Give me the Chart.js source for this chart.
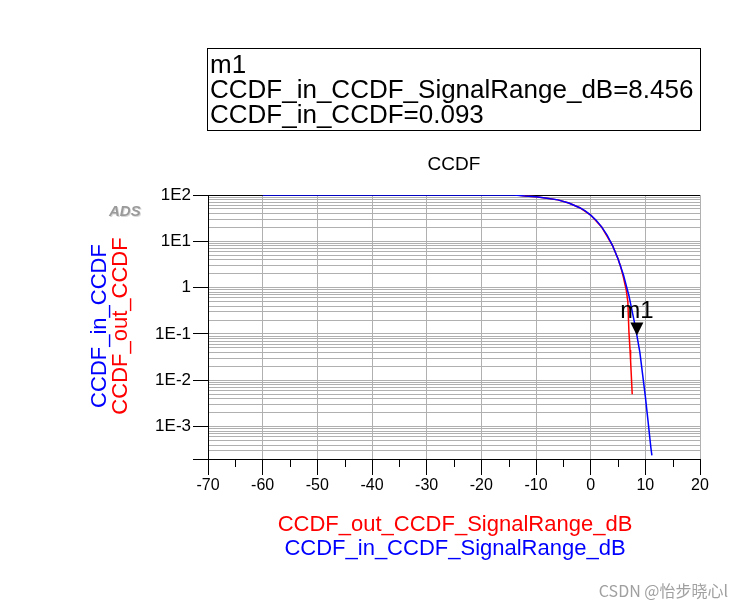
<!DOCTYPE html>
<html>
<head>
<meta charset="utf-8">
<script src="https://cdn.jsdelivr.net/npm/chart.js@4"></script>
<style>
  body { margin: 0; background: #fff; }
  canvas { display: block; }
</style>
</head>
<body>
<canvas id="ccdfChart" width="741" height="610"></canvas>
<script>
// signal range (dB) and CCDF (%)
const inRange = [-60, -14, -12, -10, -8, -6, -4, -2, -1, 0, 1, 2, 3, 4, 5, 6, 7, 8, 8.456, 9, 10, 10.5, 11, 11.2];
const inCCDF = [100, 99.6, 95, 92, 85.4, 78.5, 67.2, 53.2, 45.2, 36.8, 28.4, 20.5, 13.6, 8.1, 4.2, 1.87, 0.67, 0.18, 0.093, 0.04, 0.0045, 0.0013, 0.00036, 0.00024];
const outRange = [-13.5, -12, -10, -8, -6, -4, -2, 0, 2, 4, 5, 5.5, 6, 6.5, 6.8, 7, 7.2, 7.3, 7.6];
const outCCDF = [99.6, 95, 92, 85.4, 78.5, 67.2, 53.2, 36.8, 20.5, 8.1, 4.2, 2.8, 1.65, 0.9, 0.5, 0.11, 0.045, 0.027, 0.005];

const xTickValues = [-70, -60, -50, -40, -30, -20, -10, 0, 10, 20];
const yTickValues = [1e-3, 1e-2, 1e-1, 1, 10, 100];
const yTickLabels = ['1E-3', '1E-2', '1E-1', '1', '1E1', '1E2'];
const yMin = 2e-4, yMax = 100;

const markerName = 'm1';
const markerX = 8.456;
const markerY = 0.093;

// log grid: 1..9 x each decade
const yGrid = [];
for (let k = 2; k <= 9; k++) yGrid.push(yTickValues[0] / 10 * k);
for (let i = 0; i < yTickValues.length - 1; i++) {
  for (let k = 1; k <= 9; k++) yGrid.push(yTickValues[i] * k);
}
yGrid.push(yTickValues[yTickValues.length - 1]);

function majorIndex(v) {
  return yTickValues.findIndex(t => Math.abs(Math.log10(t) - Math.log10(v)) < 1e-6);
}

const FONT = '"Liberation Sans", Arial, sans-serif';

const adsDecor = {
  id: 'adsDecor',
  beforeDatasetsDraw(chart) {
    const c = chart.ctx, a = chart.chartArea;
    const xs = chart.scales.x;
    c.save();
    c.strokeStyle = '#000';
    c.lineWidth = 1;
    c.beginPath();
    // top border
    c.moveTo(a.left - 15, a.top + 0.5); c.lineTo(a.right, a.top + 0.5);
    // y axis line running past the x axis
    c.moveTo(a.left + 0.5, a.top); c.lineTo(a.left + 0.5, a.bottom + 16);
    // x axis line running past the y axis
    c.moveTo(a.left - 15, a.bottom + 0.5); c.lineTo(a.right, a.bottom + 0.5);
    // minor x ticks halfway between labels
    for (let i = 0; i < xTickValues.length - 1; i++) {
      const v = (xTickValues[i] + xTickValues[i + 1]) / 2;
      const px = Math.round(xs.getPixelForValue(v)) + 0.5;
      c.moveTo(px, a.bottom); c.lineTo(px, a.bottom + 8);
    }
    c.stroke();
    c.restore();
  },
  afterDatasetsDraw(chart) {
    const c = chart.ctx;
    const px = chart.scales.x.getPixelForValue(markerX);
    const py = chart.scales.y.getPixelForValue(markerY);
    c.save();
    c.fillStyle = '#000';
    c.beginPath();
    c.moveTo(px, py);
    c.lineTo(px - 6.5, py - 13);
    c.lineTo(px + 6.5, py - 13);
    c.closePath();
    c.fill();
    c.font = '24px ' + FONT;
    c.textAlign = 'center';
    c.textBaseline = 'alphabetic';
    c.fillText(markerName, px, py - 17);
    c.restore();
  },
  afterDraw(chart) {
    const c = chart.ctx;
    c.save();
    // marker readout box
    c.strokeStyle = '#000';
    c.lineWidth = 1;
    c.strokeRect(207.5, 48.5, 493, 82);
    c.fillStyle = '#000';
    c.font = '26px ' + FONT;
    c.textAlign = 'left';
    c.fillText(markerName, 210, 73);
    c.fillText('CCDF_in_CCDF_SignalRange_dB=' + markerX, 210, 98);
    c.fillText('CCDF_in_CCDF=' + markerY, 210, 123);

    // title
    c.font = '19px ' + FONT;
    c.textAlign = 'center';
    c.fillText('CCDF', 454, 170);

    // ADS logo
    c.font = 'bold italic 15px ' + FONT;
    c.textAlign = 'left';
    c.fillStyle = '#d8d8d8';
    c.fillText('ADS', 110, 217);
    c.fillStyle = '#9a9a9a';
    c.fillText('ADS', 109, 216);

    // y axis titles
    c.font = '22px ' + FONT;
    c.textAlign = 'center';
    c.textBaseline = 'middle';
    c.save();
    c.translate(100, 326);
    c.rotate(-Math.PI / 2);
    c.fillStyle = '#0000ff';
    c.fillText('CCDF_in_CCDF', 0, 0);
    c.restore();
    c.save();
    c.translate(121, 326);
    c.rotate(-Math.PI / 2);
    c.fillStyle = '#ff0000';
    c.fillText('CCDF_out_CCDF', 0, 0);
    c.restore();

    // x axis titles
    c.fillStyle = '#ff0000';
    c.fillText('CCDF_out_CCDF_SignalRange_dB', 455, 525);
    c.fillStyle = '#0000ff';
    c.fillText('CCDF_in_CCDF_SignalRange_dB', 455, 549);

    // watermark
    c.font = '16px "Noto Sans CJK SC", ' + FONT;
    c.fillStyle = '#a0a0a0';
    c.textAlign = 'right';
    c.fillText('CSDN @怡步晓心l', 728, 591);
    c.restore();
  }
};

new Chart(document.getElementById('ccdfChart'), {
  type: 'scatter',
  data: {
    datasets: [
      {
        label: 'CCDF_in_CCDF',
        data: inRange.map((x, i) => ({ x, y: inCCDF[i] })),
        showLine: true,
        borderColor: '#0000ff',
        borderWidth: 1.5,
        pointRadius: 0,
        tension: 0
      },
      {
        label: 'CCDF_out_CCDF',
        data: outRange.map((x, i) => ({ x, y: outCCDF[i] })),
        showLine: true,
        borderColor: '#ff0000',
        borderWidth: 1.5,
        pointRadius: 0,
        tension: 0
      }
    ]
  },
  options: {
    responsive: false,
    animation: false,
    layout: { padding: { top: 195, right: 41, left: 0, bottom: 0 } },
    plugins: {
      legend: { display: false },
      tooltip: { enabled: false }
    },
    scales: {
      x: {
        type: 'linear',
        min: xTickValues[0],
        max: xTickValues[xTickValues.length - 1],
        afterFit(scale) { scale.height = 151; },
        afterBuildTicks(scale) { scale.ticks = xTickValues.map(v => ({ value: v })); },
        ticks: {
          autoSkip: false,
          color: '#000',
          padding: 3,
          font: { family: FONT, size: 16, lineHeight: 1 }
        },
        grid: { color: '#b0b0b0', tickColor: '#000', tickLength: 16 },
        border: { color: '#000' }
      },
      y: {
        type: 'logarithmic',
        min: yMin,
        max: yMax,
        afterFit(scale) { scale.width = 208; },
        afterBuildTicks(scale) { scale.ticks = yGrid.map(v => ({ value: v })); },
        ticks: {
          autoSkip: false,
          color: '#000',
          padding: 2,
          font: { family: FONT, size: 17 },
          callback(v) {
            const i = majorIndex(v);
            return i >= 0 ? yTickLabels[i] : '';
          }
        },
        grid: {
          color: '#b0b0b0',
          tickLength: 15,
          tickColor: ctx => (ctx.tick && majorIndex(ctx.tick.value) >= 0 ? '#000' : 'rgba(0,0,0,0)')
        },
        border: { color: '#000' }
      }
    }
  },
  plugins: [adsDecor]
});
</script>
</body>
</html>
